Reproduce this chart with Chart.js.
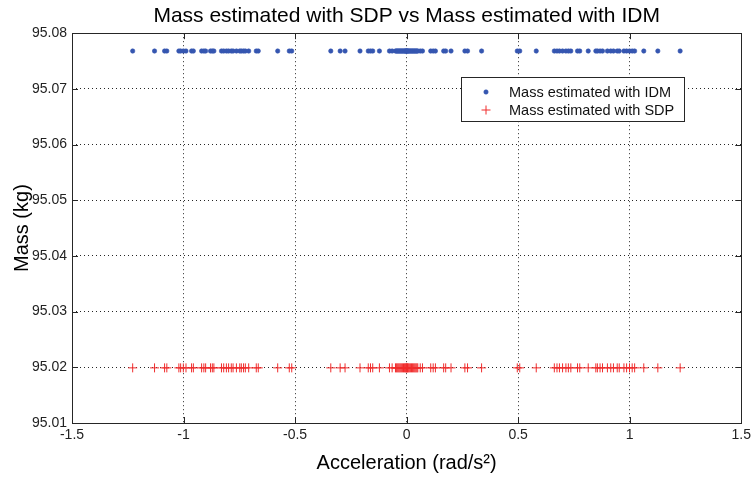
<!DOCTYPE html>
<html>
<head>
<meta charset="utf-8">
<script src="https://cdn.jsdelivr.net/npm/chart.js@4/dist/chart.umd.min.js"></script>
<style>
  html, body { margin: 0; padding: 0; background: #fff; }
  #wrap { width: 755px; height: 478px; }
</style>
</head>
<body>
<div id="wrap"><canvas id="massChart" width="755" height="478"></canvas></div>
<script>
// Acceleration samples (rad/s^2), shared by both estimators
const accel = [
  -1.228, -1.130, -1.085, -1.075, -1.021, -1.013, -1.001, -0.989, -0.964, -0.956,
  -0.919, -0.909, -0.901, -0.879, -0.871, -0.864, -0.830, -0.820, -0.808, -0.798,
  -0.786, -0.778, -0.763, -0.748, -0.741, -0.731, -0.723, -0.708, -0.674, -0.665,
  -0.578, -0.526, -0.515, -0.340, -0.298, -0.276, -0.209, -0.172, -0.162, -0.152,
  -0.122, -0.077, -0.065,
  -0.050, -0.046, -0.042, -0.038, -0.034, -0.030, -0.026, -0.022, -0.018, -0.014,
  -0.010, -0.007, -0.004, -0.002, 0.000, 0.002, 0.004, 0.007, 0.010, 0.014,
  0.018, 0.022, 0.026, 0.030, 0.034, 0.038, 0.042, 0.046, 0.050,
  0.061, 0.071, 0.108, 0.119, 0.129, 0.166, 0.175, 0.199, 0.261, 0.273,
  0.336, 0.496, 0.507, 0.581, 0.662, 0.674, 0.685, 0.699, 0.714, 0.725,
  0.736, 0.766, 0.776, 0.814, 0.848, 0.855, 0.867, 0.878, 0.900, 0.915,
  0.927, 0.944, 0.953, 0.974, 0.986, 0.999, 1.011, 1.022, 1.063, 1.126, 1.226
];

// Estimated mass (kg) for each method
const seriesNames = ['Mass estimated with IDM', 'Mass estimated with SDP'];
const seriesMass = [95.0768, 95.0199];
const seriesColors = ['#3556b0', '#f02c2c'];

const xTicks = [-1.5, -1, -0.5, 0, 0.5, 1, 1.5];
const yTicks = [95.01, 95.02, 95.03, 95.04, 95.05, 95.06, 95.07, 95.08];

const FONT = '"Liberation Sans", Arial, sans-serif';

// inward tick marks on all four sides plus the axes box
const boxTicks = {
  id: 'boxTicks',
  afterDraw(chart) {
    const { ctx, chartArea: a, scales } = chart;
    ctx.save();
    ctx.strokeStyle = '#262626';
    ctx.lineWidth = 1;
    ctx.beginPath();
    xTicks.forEach(v => {
      const x = Math.round(scales.x.getPixelForValue(v)) + 0.5;
      ctx.moveTo(x, a.bottom); ctx.lineTo(x, a.bottom - 6);
      ctx.moveTo(x, a.top); ctx.lineTo(x, a.top + 6);
    });
    yTicks.forEach(v => {
      const y = Math.round(scales.y.getPixelForValue(v)) + 0.5;
      ctx.moveTo(a.left, y); ctx.lineTo(a.left + 6, y);
      ctx.moveTo(a.right, y); ctx.lineTo(a.right - 6, y);
    });
    ctx.stroke();
    ctx.strokeRect(Math.round(a.left) + 0.5, Math.round(a.top) + 0.5,
      Math.round(a.right - a.left), Math.round(a.bottom - a.top));
    ctx.restore();
  }
};

// boxed legend in the upper right of the axes
const boxLegend = {
  id: 'boxLegend',
  afterDraw(chart) {
    const { ctx } = chart;
    const bx = 461, by = 77, bw = 223, bh = 44;
    ctx.save();
    ctx.fillStyle = '#fff';
    ctx.fillRect(bx, by, bw, bh);
    ctx.strokeStyle = '#262626';
    ctx.lineWidth = 1;
    ctx.strokeRect(bx + 0.5, by + 0.5, bw, bh);
    ctx.font = '14.5px ' + FONT;
    ctx.textBaseline = 'middle';
    chart.data.datasets.forEach((ds, i) => {
      const rowY = by + 15 + i * 18;
      ctx.fillStyle = ds.backgroundColor;
      ctx.strokeStyle = ds.borderColor;
      ctx.lineWidth = ds.borderWidth;
      Chart.helpers.drawPoint(ctx, {
        pointStyle: ds.pointStyle, radius: ds.pointRadius,
        borderWidth: ds.borderWidth, rotation: 0
      }, 486, rowY);
      ctx.fillStyle = '#111';
      ctx.fillText(ds.label, 509, rowY + 1);
    });
    ctx.restore();
  }
};

const fmt = v => Number(v.toFixed(2)).toString();

new Chart(document.getElementById('massChart'), {
  type: 'scatter',
  data: {
    datasets: [
      {
        label: seriesNames[0],
        data: accel.map(a => ({ x: a, y: seriesMass[0] })),
        pointStyle: 'circle',
        pointRadius: 2.2,
        borderWidth: 0.6,
        backgroundColor: seriesColors[0],
        borderColor: seriesColors[0]
      },
      {
        label: seriesNames[1],
        data: accel.map(a => ({ x: a, y: seriesMass[1] })),
        pointStyle: 'cross',
        pointRadius: 4.5,
        borderWidth: 1,
        backgroundColor: seriesColors[1],
        borderColor: seriesColors[1]
      }
    ]
  },
  options: {
    responsive: false,
    animation: false,
    layout: { padding: { left: 0, right: 12, top: 0, bottom: 0 } },
    plugins: {
      legend: { display: false },
      tooltip: { enabled: false }
    },
    scales: {
      // top axis only carries the plot title, centred over the axes
      top: {
        type: 'linear',
        position: 'top',
        min: -1.5,
        max: 1.5,
        ticks: { display: false },
        grid: { display: false, drawTicks: false },
        border: { display: false },
        title: {
          display: true,
          text: 'Mass estimated with SDP vs Mass estimated with IDM',
          color: '#000',
          font: { family: FONT, size: 21 },
          padding: { top: 4, bottom: 4 }
        }
      },
      x: {
        type: 'linear',
        min: -1.5,
        max: 1.5,
        afterFit: s => { s.height = 55; },
        afterBuildTicks: s => { s.ticks = xTicks.map(v => ({ value: v })); },
        ticks: {
          padding: 4,
          color: '#222',
          font: { family: FONT, size: 14 },
          maxRotation: 0,
          callback: fmt
        },
        grid: { color: 'rgba(0,0,0,0.85)', lineWidth: 1, drawTicks: false },
        border: { display: false, dash: [1, 3] },
        title: {
          display: true,
          text: 'Acceleration (rad/s²)',
          color: '#000',
          font: { family: FONT, size: 20 },
          padding: { top: 0, bottom: 3 }
        }
      },
      y: {
        type: 'linear',
        min: 95.01,
        max: 95.08,
        afterFit: s => { s.width = 72; },
        afterBuildTicks: s => { s.ticks = yTicks.map(v => ({ value: v })); },
        ticks: {
          padding: 5,
          color: '#222',
          font: { family: FONT, size: 14 },
          callback: v => v.toFixed(2)
        },
        grid: { color: 'rgba(0,0,0,0.85)', lineWidth: 1, drawTicks: false },
        border: { display: false, dash: [1, 3] },
        title: {
          display: true,
          text: 'Mass (kg)',
          color: '#000',
          font: { family: FONT, size: 20 },
          padding: { top: 10, bottom: 0 }
        }
      }
    }
  },
  plugins: [boxTicks, boxLegend]
});
</script>
</body>
</html>
